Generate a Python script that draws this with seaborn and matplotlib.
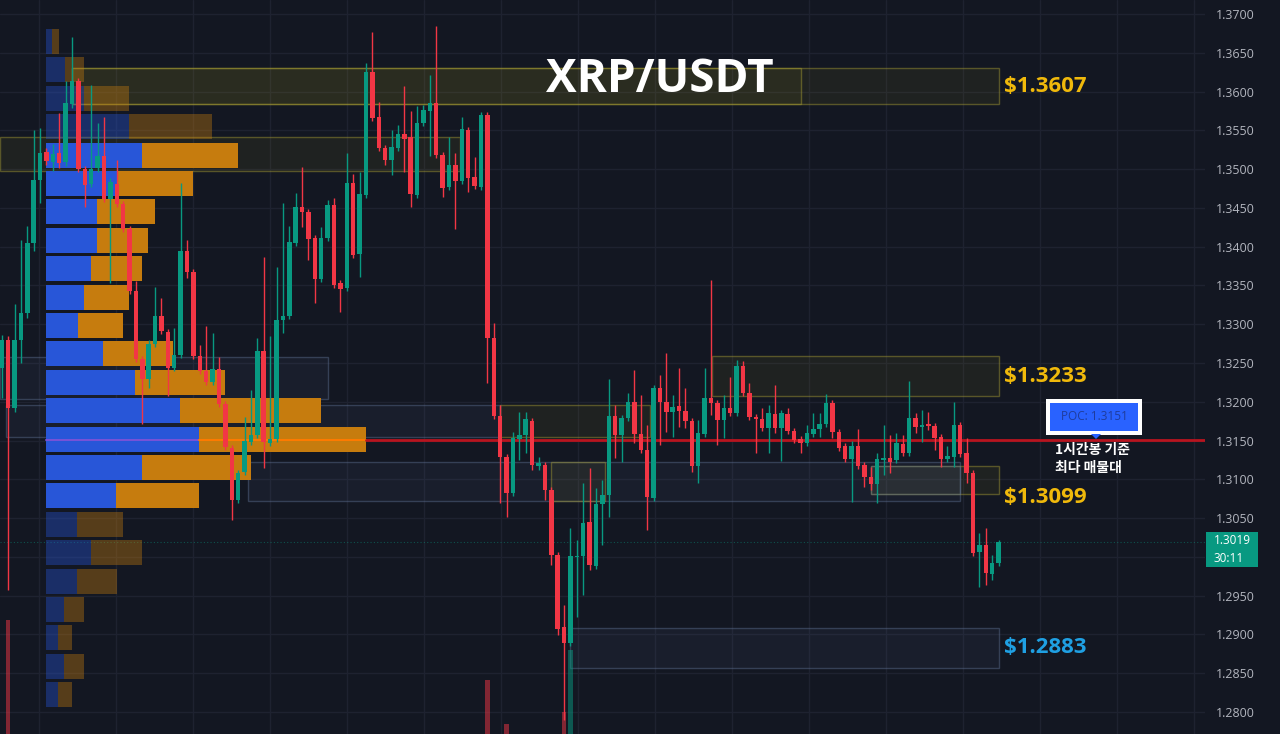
import numpy as np
import matplotlib
matplotlib.use("Agg")
import matplotlib.pyplot as plt
import matplotlib.transforms as mtransforms
from matplotlib.patches import Rectangle, Polygon
import seaborn as sns

# ---------------------------------------------------------------- data
# XRP/USDT 1h candles (oldest -> newest)
opens = [1.3244, 1.3280, 1.3192, 1.3280, 1.3314, 1.3405, 1.3486, 1.3522, 1.3509, 1.3521,
         1.3509, 1.3584, 1.3614, 1.3500, 1.3481, 1.3501, 1.3517, 1.3461, 1.3481, 1.3455,
         1.3423, 1.3343, 1.3255, 1.3229, 1.3275, 1.3311, 1.3290, 1.3244, 1.3260, 1.3394,
         1.3367, 1.3259, 1.3240, 1.3226, 1.3242, 1.3197, 1.3140, 1.3073, 1.3109, 1.3148,
         1.3157, 1.3266, 1.3147, 1.3152, 1.3305, 1.3311, 1.3405, 1.3451, 1.3445, 1.3411,
         1.3358, 1.3411, 1.3454, 1.3353, 1.3347, 1.3482, 1.3391, 1.3467, 1.3625, 1.3567,
         1.3527, 1.3512, 1.3527, 1.3545, 1.3541, 1.3467, 1.3559, 1.3575, 1.3585, 1.3518,
         1.3477, 1.3505, 1.3485, 1.3550, 1.3490, 1.3477, 1.3570, 1.3282, 1.3182, 1.3129,
         1.3082, 1.3152, 1.3157, 1.3175, 1.3117, 1.3119, 1.3086, 1.3002, 1.2910, 1.2889,
         1.3000, 1.3001, 1.3045, 1.2988, 1.3068, 1.3080, 1.3182, 1.3157, 1.3179, 1.3200,
         1.3158, 1.3138, 1.3076, 1.3218, 1.3200, 1.3187, 1.3195, 1.3188, 1.3175, 1.3117,
         1.3158, 1.3205, 1.3198, 1.3177, 1.3192, 1.3186, 1.3246, 1.3211, 1.3180, 1.3178,
         1.3166, 1.3184, 1.3166, 1.3184, 1.3162, 1.3152, 1.3147, 1.3158, 1.3165, 1.3171,
         1.3198, 1.3161, 1.3143, 1.3126, 1.3143, 1.3119, 1.3103, 1.3094, 1.3125, 1.3128,
         1.3125, 1.3146, 1.3134, 1.3179, 1.3168, 1.3171, 1.3169, 1.3155, 1.3126, 1.3129,
         1.3170, 1.3134, 1.3108, 1.3006, 1.3015, 1.2978, 1.2992]
highs = [1.3286, 1.3285, 1.3326, 1.3409, 1.3427, 1.3550, 1.3553, 1.3527, 1.3532, 1.3572,
         1.3614, 1.3670, 1.3617, 1.3504, 1.3608, 1.3559, 1.3567, 1.3489, 1.3512, 1.3459,
         1.3427, 1.3356, 1.3259, 1.3280, 1.3348, 1.3334, 1.3294, 1.3295, 1.3482, 1.3409,
         1.3371, 1.3273, 1.3298, 1.3289, 1.3258, 1.3201, 1.3144, 1.3112, 1.3180, 1.3215,
         1.3282, 1.3387, 1.3285, 1.3374, 1.3456, 1.3427, 1.3469, 1.3503, 1.3449, 1.3415,
         1.3425, 1.3460, 1.3463, 1.3357, 1.3521, 1.3494, 1.3496, 1.3637, 1.3677, 1.3587,
         1.3531, 1.3550, 1.3557, 1.3607, 1.3575, 1.3581, 1.3583, 1.3621, 1.3685, 1.3522,
         1.3541, 1.3521, 1.3567, 1.3554, 1.3516, 1.3574, 1.3574, 1.3302, 1.3196, 1.3133,
         1.3161, 1.3187, 1.3187, 1.3179, 1.3129, 1.3122, 1.3090, 1.3006, 1.2938, 1.3037,
         1.3022, 1.3095, 1.3115, 1.3089, 1.3099, 1.3229, 1.3196, 1.3183, 1.3211, 1.3241,
         1.3209, 1.3170, 1.3222, 1.3235, 1.3263, 1.3209, 1.3244, 1.3218, 1.3179, 1.3177,
         1.3244, 1.3357, 1.3202, 1.3209, 1.3232, 1.3254, 1.3253, 1.3224, 1.3184, 1.3192,
         1.3196, 1.3222, 1.3189, 1.3192, 1.3166, 1.3156, 1.3170, 1.3186, 1.3186, 1.3210,
         1.3202, 1.3165, 1.3147, 1.3149, 1.3165, 1.3122, 1.3116, 1.3134, 1.3170, 1.3157,
         1.3160, 1.3157, 1.3227, 1.3186, 1.3189, 1.3187, 1.3173, 1.3158, 1.3143, 1.3200,
         1.3174, 1.3153, 1.3112, 1.3031, 1.3037, 1.3002, 1.3022]
lows = [1.3205, 1.2957, 1.3187, 1.3250, 1.3308, 1.3394, 1.3456, 1.3505, 1.3498, 1.3501,
        1.3504, 1.3579, 1.3496, 1.3451, 1.3477, 1.3496, 1.3458, 1.3353, 1.3451, 1.3419,
        1.3339, 1.3251, 1.3171, 1.3218, 1.3271, 1.3287, 1.3207, 1.3240, 1.3256, 1.3360,
        1.3255, 1.3236, 1.3222, 1.3222, 1.3193, 1.3138, 1.3048, 1.3070, 1.3106, 1.3144,
        1.3153, 1.3115, 1.3143, 1.3148, 1.3289, 1.3307, 1.3401, 1.3425, 1.3383, 1.3327,
        1.3354, 1.3407, 1.3347, 1.3316, 1.3343, 1.3385, 1.3361, 1.3463, 1.3562, 1.3523,
        1.3505, 1.3492, 1.3523, 1.3496, 1.3451, 1.3463, 1.3556, 1.3517, 1.3514, 1.3464,
        1.3473, 1.3423, 1.3481, 1.3471, 1.3474, 1.3473, 1.3224, 1.3178, 1.3070, 1.3051,
        1.3079, 1.3125, 1.3134, 1.3112, 1.3112, 1.3073, 1.2990, 1.2899, 1.2790, 1.2885,
        1.2923, 1.2951, 1.2983, 1.2984, 1.3015, 1.3051, 1.3128, 1.3122, 1.3175, 1.3147,
        1.3134, 1.3035, 1.3072, 1.3144, 1.3161, 1.3155, 1.3168, 1.3166, 1.3109, 1.3095,
        1.3155, 1.3183, 1.3144, 1.3153, 1.3182, 1.3182, 1.3207, 1.3177, 1.3134, 1.3162,
        1.3134, 1.3160, 1.3124, 1.3158, 1.3147, 1.3134, 1.3143, 1.3155, 1.3155, 1.3168,
        1.3153, 1.3137, 1.3122, 1.3071, 1.3113, 1.3090, 1.3086, 1.3070, 1.3106, 1.3108,
        1.3121, 1.3130, 1.3130, 1.3160, 1.3148, 1.3164, 1.3138, 1.3116, 1.3122, 1.3116,
        1.3129, 1.3095, 1.3001, 1.2961, 1.2964, 1.2970, 1.2988]
closes = [1.3280, 1.3192, 1.3280, 1.3314, 1.3405, 1.3486, 1.3521, 1.3510, 1.3519, 1.3508,
          1.3585, 1.3614, 1.3500, 1.3480, 1.3500, 1.3517, 1.3461, 1.3483, 1.3455, 1.3423,
          1.3343, 1.3255, 1.3229, 1.3275, 1.3311, 1.3291, 1.3244, 1.3260, 1.3394, 1.3367,
          1.3259, 1.3240, 1.3226, 1.3242, 1.3197, 1.3142, 1.3073, 1.3108, 1.3149, 1.3157,
          1.3266, 1.3148, 1.3152, 1.3305, 1.3311, 1.3406, 1.3451, 1.3445, 1.3410, 1.3358,
          1.3411, 1.3454, 1.3351, 1.3345, 1.3482, 1.3389, 1.3468, 1.3625, 1.3566, 1.3527,
          1.3512, 1.3529, 1.3545, 1.3539, 1.3468, 1.3559, 1.3576, 1.3585, 1.3518, 1.3476,
          1.3505, 1.3485, 1.3552, 1.3489, 1.3478, 1.3570, 1.3282, 1.3182, 1.3129, 1.3082,
          1.3153, 1.3157, 1.3178, 1.3119, 1.3121, 1.3086, 1.3002, 1.2907, 1.2889, 1.3001,
          1.3001, 1.3044, 1.2990, 1.3068, 1.3080, 1.3182, 1.3157, 1.3179, 1.3200, 1.3158,
          1.3138, 1.3077, 1.3218, 1.3200, 1.3187, 1.3193, 1.3188, 1.3175, 1.3117, 1.3160,
          1.3205, 1.3198, 1.3177, 1.3192, 1.3186, 1.3246, 1.3211, 1.3180, 1.3178, 1.3166,
          1.3186, 1.3166, 1.3186, 1.3162, 1.3151, 1.3147, 1.3160, 1.3165, 1.3171, 1.3198,
          1.3161, 1.3140, 1.3126, 1.3143, 1.3117, 1.3103, 1.3094, 1.3126, 1.3128, 1.3122,
          1.3147, 1.3134, 1.3179, 1.3168, 1.3170, 1.3169, 1.3153, 1.3126, 1.3130, 1.3170,
          1.3133, 1.3108, 1.3005, 1.3015, 1.2979, 1.2992, 1.3019]

# hourly volume (M XRP) of the bars tall enough to reach into the price pane
volume_bars = {1: 41.4, 76: 35.4, 79: 31.0, 88: 32.2, 89: 38.4}
volume_floor = 30.0          # volume level sitting at the pane's lower edge

# visible-range volume profile, 24 rows from top to bottom (M XRP)
profile_high, profile_low = 1.3683, 1.2804
profile_up = [0.6, 1.9, 3.8, 8.3, 9.6, 7.1, 5.1, 5.1, 4.5, 3.8, 3.2, 5.7,
              8.9, 13.4, 15.3, 9.6, 7.0, 3.1, 4.5, 3.1, 1.8, 1.2, 1.8, 1.2]
profile_down = [0.7, 1.9, 4.5, 8.3, 9.6, 7.6, 5.8, 5.1, 5.1, 4.5, 4.5, 7.0,
                9.0, 14.1, 16.7, 10.9, 8.3, 4.6, 5.1, 4.0, 2.0, 1.4, 2.0, 1.4]
value_area_rows = (4, 16)    # first / last row inside the 70 % value area
poc_price = 1.3151

# supply / demand zones: (first candle, last candle, low, high, kind)
zones = [
    (11.0, 156.0, 1.3584, 1.3630, "olive"),
    (11.0, 125.0, 1.3584, 1.3630, "olive"),
    (-0.3, 71.7, 1.3498, 1.3541, "olive"),
    (-0.3, 51.0, 1.3204, 1.3258, "slate"),
    (0.7, 78.0, 1.3155, 1.3196, "slate"),
    (78.0, 101.5, 1.3155, 1.3196, "olive"),
    (38.6, 150.0, 1.3072, 1.3122, "slate"),
    (86.0, 94.4, 1.3072, 1.3122, "olive"),
    (111.2, 156.0, 1.3207, 1.3259, "olive"),
    (136.0, 156.0, 1.3081, 1.3117, "olive"),
    (136.0, 150.0, 1.3081, 1.3117, "slate"),
    (89.0, 156.0, 1.2857, 1.2909, "slate"),
]
# price levels written beside the zones: (level, text offset, colour)
levels = [(1.3607, 0.0, "#f0b90b"), (1.3233, 0.0, "#f0b90b"),
          (1.3099, -0.0023, "#f0b90b"), (1.2883, 0.0, "#1fa0e3")]

last_price, countdown = 1.3019, "30:11"
yticks = [1.28, 1.285, 1.29, 1.295, 1.30, 1.305, 1.31, 1.315, 1.32, 1.325,
          1.33, 1.335, 1.34, 1.345, 1.35, 1.355, 1.36, 1.365, 1.37]

# ---------------------------------------------------------------- style
BG = "#131722"
UP, DOWN = "#089981", "#f23645"
sns.set_theme(style="dark", rc={"axes.facecolor": BG, "figure.facecolor": BG,
                                "savefig.facecolor": BG})
plt.rcParams["font.family"] = ["Open Sans", "Noto Sans CJK KR", "DejaVu Sans"]

W, H = 1280, 734
PLOT_W = 1205                       # width of the price pane in pixels
XMIN, XMAX = -0.27, 188.3
YMIN, YMAX = 1.27717, 1.37181

fig = plt.figure(figsize=(W / 100, H / 100), dpi=100)
ax = fig.add_axes([0, 0, PLOT_W / W, 1])
ax.set_facecolor(BG)
ax.set_xlim(XMIN, XMAX)
ax.set_ylim(YMIN, YMAX)


def px_to_x(px):
    return XMIN + px * (XMAX - XMIN) / PLOT_W


def fig_px(x, y):
    return x / W, 1 - y / H


# grid; the scale label right under the last-price badge stays hidden by it
ax.set_yticks(yticks)
ax.set_yticklabels(["" if abs(t - last_price) < 0.0025 else f"{t:.4f}" for t in yticks])
ax.set_xticks(np.arange(5.84, XMAX, 12.05))
ax.set_xticklabels([])
ax.grid(True, color="#1e2230", lw=1)
ax.yaxis.tick_right()
ax.tick_params(axis="y", length=0, pad=7.5, labelsize=9, labelcolor="#b2b5be")
ax.tick_params(axis="x", length=0)
sns.despine(ax=ax, left=True, right=True, top=True, bottom=True)

# zones
for x0, x1, lo, hi, kind in zones:
    if kind == "olive":
        fc, ec = (0.80, 0.74, 0.12, 0.065), (0.66, 0.62, 0.20, 0.45)
    else:
        fc, ec = (0.42, 0.52, 0.70, 0.07), (0.40, 0.48, 0.62, 0.40)
    ax.add_patch(Rectangle((x0, lo), x1 - x0, hi - lo, facecolor=fc,
                           edgecolor=ec, lw=1, zorder=1))

# volume profile
up = np.array(profile_up)
down = np.array(profile_down)
nrows = len(up)
step = (profile_high - profile_low) / nrows
row_mid = profile_high - step * (np.arange(nrows) + 0.5)
prof_left = px_to_x(46)
prof_scale = 10 * (XMAX - XMIN) / PLOT_W     # 10 px per M
prof_tr = mtransforms.Affine2D().scale(prof_scale, 1).translate(prof_left, 0) + ax.transData
for k in range(nrows):
    inside = value_area_rows[0] <= k <= value_area_rows[1]
    a = 1.0 if inside else 0.38
    ax.barh(row_mid[k], up[k], height=step * 0.88, left=0, color="#2856d8",
            alpha=a, transform=prof_tr, zorder=2, lw=0)
    ax.barh(row_mid[k], down[k], height=step * 0.88, left=up[k], color="#c67c0e",
            alpha=a, transform=prof_tr, zorder=2, lw=0)

poc_row = int(np.argmax(up + down))
ax.plot([0, up[poc_row]], [poc_price, poc_price], color="#7a52d6", lw=1.4,
        transform=prof_tr, zorder=2.2)
ax.plot([up[poc_row], up[poc_row] + down[poc_row]], [poc_price, poc_price],
        color="#ff7a00", lw=1.4, transform=prof_tr, zorder=2.2)
poc_end = prof_left + (up[poc_row] + down[poc_row]) * prof_scale
ax.plot([poc_end, XMAX], [poc_price, poc_price], color="#b8141f", lw=2.0, zorder=2.3)

# last price line
ax.axhline(last_price, color=UP, lw=0.8, ls=(0, (1, 2)), alpha=0.45, zorder=1.5)

# volume bars reaching into the pane
vol_tr = mtransforms.Affine2D().scale(1, 10 / H).translate(0, -volume_floor * 10 / H) + \
    mtransforms.blended_transform_factory(ax.transData, ax.transAxes)
for i, v in volume_bars.items():
    col = UP if closes[i] >= opens[i] else DOWN
    ax.bar(i, v, width=0.7, bottom=0, color=col, alpha=0.5, transform=vol_tr,
           zorder=1.2, lw=0)

# candles
o = np.array(opens); h = np.array(highs); l = np.array(lows); c = np.array(closes)
idx = np.arange(len(o))
cols = np.where(c >= o, UP, DOWN)
ax.vlines(idx, l, h, colors=cols, lw=1.0, zorder=3)
body_lo = np.minimum(o, c)
body_h = np.maximum(np.abs(c - o), 0.00013)
ax.bar(idx, body_h, bottom=body_lo, width=0.7, color=cols, lw=0, zorder=3.1)

# zone level labels
lab_x = px_to_x(1004)
for lvl, off, col in levels:
    ax.text(lab_x, lvl + off, f"${lvl:.4f}", color=col, fontsize=16,
            fontweight="bold", va="center", ha="left", zorder=5)

# title
fig.text(*fig_px(660, 79), "XRP/USDT", ha="center", va="center", fontsize=33,
         fontweight="bold", color="white")

# POC call-out
x0, y0 = fig_px(1046, 435)
fig.add_artist(Rectangle((x0, y0), 96 / W, 36 / H, transform=fig.transFigure,
                         facecolor="white", edgecolor="none", zorder=6))
x0, y0 = fig_px(1050, 431)
fig.add_artist(Rectangle((x0, y0), 88 / W, 28 / H, transform=fig.transFigure,
                         facecolor="#2962ff", edgecolor="none", zorder=7))
fig.add_artist(Polygon([fig_px(1091, 434), fig_px(1101, 434), fig_px(1096, 439)],
                       closed=True, transform=fig.transFigure, facecolor="#2962ff",
                       edgecolor="none", zorder=7))
fig.text(*fig_px(1094, 417), f"POC: {poc_price:.4f}", ha="center", va="center",
         fontsize=8.5, color="#1f3c9c", zorder=8)
fig.text(*fig_px(1055, 450), "1시간봉 기준", ha="left", va="center", fontsize=10,
         fontweight="bold", color="white", family=["Noto Sans CJK KR", "DejaVu Sans"],
         zorder=8)
fig.text(*fig_px(1055, 468), "최다 매물대", ha="left", va="center", fontsize=10,
         fontweight="bold", color="white", family=["Noto Sans CJK KR", "DejaVu Sans"],
         zorder=8)

# last price badge on the price scale
x0, y0 = fig_px(1206, 567)
fig.add_artist(Rectangle((x0, y0), 52 / W, 35 / H, transform=fig.transFigure,
                         facecolor="#089981", edgecolor="none", zorder=6))
fig.text(*fig_px(1214, 541), f"{last_price:.4f}", ha="left", va="center",
         fontsize=8.5, color="white", zorder=7)
fig.text(*fig_px(1214, 558), countdown, ha="left", va="center",
         fontsize=8.5, color="white", zorder=7)

fig.savefig("out.png", dpi=100, facecolor=BG)
